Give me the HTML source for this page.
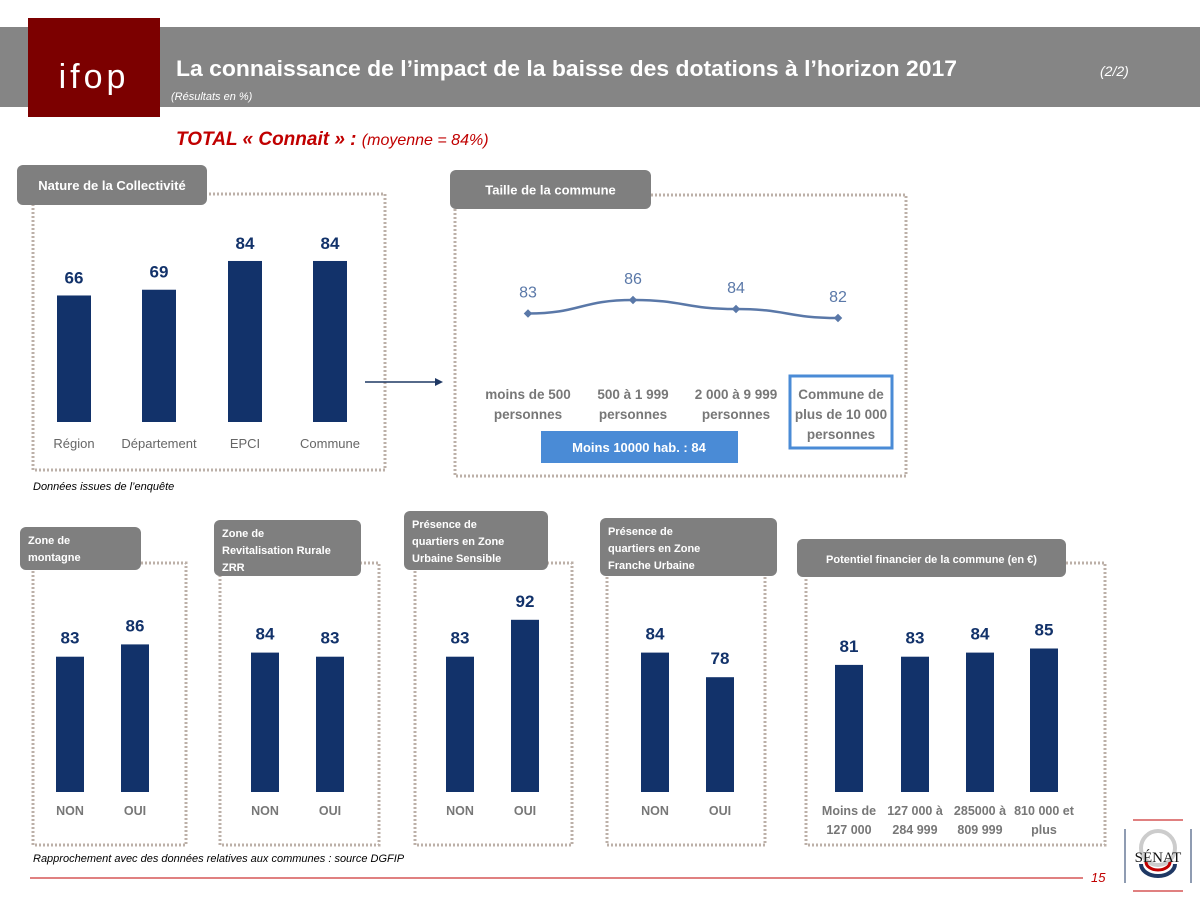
<!DOCTYPE html>
<html><head><meta charset="utf-8"><style>
body{margin:0;background:#fff;}
svg{display:block;font-family:"Liberation Sans",sans-serif;}
</style></head><body>
<svg id="c" width="1200" height="899" viewBox="0 0 1200 899">
<rect x="0" y="27" width="1200" height="80" fill="#858585"/>
<rect x="28" y="18" width="132" height="99" fill="#7c0000"/>
<text x="94" y="88" fill="#fff" font-size="34" text-anchor="middle" font-family="Liberation Sans,sans-serif" letter-spacing="4">ifop</text>
<text x="176" y="76" fill="#fff" font-size="22" font-weight="bold" textLength="781" lengthAdjust="spacingAndGlyphs">La connaissance de l’impact de la baisse des dotations à l’horizon 2017</text>
<text x="1100" y="76" fill="#fff" font-size="14" font-style="italic">(2/2)</text>
<text x="171" y="100" fill="#fff" font-size="11" font-style="italic">(Résultats en %)</text>
<text x="176" y="145" fill="#c00000" font-size="19" font-style="italic" font-weight="bold">TOTAL « Connait » : <tspan font-weight="normal" font-size="16">(moyenne = 84%)</tspan></text>
<g fill="none" stroke="#bcb0a8" stroke-width="3" stroke-dasharray="2,2">
<rect x="33" y="194" width="352" height="276"/>
<rect x="455" y="195" width="451" height="281"/>
<rect x="33" y="563" width="153" height="282"/>
<rect x="220" y="563" width="159" height="282"/>
<rect x="415" y="563" width="157" height="282"/>
<rect x="607" y="563" width="158" height="282"/>
<rect x="806" y="563" width="299" height="282"/>
</g>
<g id="tags"></g>
<g id="charts"></g>
<line x1="365" y1="382" x2="437" y2="382" stroke="#1f3864" stroke-width="1.5"/>
<polygon points="443,382 435,378 435,386" fill="#1f3864"/>
<rect x="541" y="431" width="197" height="32" fill="#4a8bd6"/>
<text x="639" y="452" fill="#fff" font-size="13" font-weight="bold" text-anchor="middle">Moins 10000 hab. : 84</text>
<rect x="790" y="376" width="102" height="72" fill="none" stroke="#4a8bd6" stroke-width="3"/>
<text x="33" y="490" font-size="11" font-style="italic" fill="#000">Données issues de l’enquête</text>
<text x="33" y="862" font-size="11" font-style="italic" fill="#000">Rapprochement avec des données relatives aux communes : source DGFIP</text>
<line x1="30" y1="878" x2="1083" y2="878" stroke="#c00000" stroke-width="1"/>
<text x="1091" y="882" font-size="13" font-style="italic" fill="#c00000">15</text>
<g>
<line x1="1133" y1="820" x2="1183" y2="820" stroke="#c00000"/>
<line x1="1133" y1="891" x2="1183" y2="891" stroke="#c00000"/>
<line x1="1125" y1="829" x2="1125" y2="883" stroke="#1f3864"/>
<line x1="1191" y1="829" x2="1191" y2="883" stroke="#1f3864"/>
<circle cx="1158" cy="848" r="17" fill="none" stroke="#ccc" stroke-width="4"/>
<path d="M1141 864 A17 12 0 0 0 1175 864" fill="none" stroke="#1f3864" stroke-width="4"/>
<path d="M1146 862 A12 8 0 0 0 1170 862" fill="none" stroke="#c00000" stroke-width="3"/>
<text x="1158" y="862" font-size="15" text-anchor="middle" font-family="Liberation Serif,serif" fill="#111">SÉNAT</text>
</g>
</svg>
<script>
const NS="http://www.w3.org/2000/svg";
const svg=document.getElementById('c');
const G=document.getElementById('charts');
const T=document.getElementById('tags');
function el(tag,attrs,parent,txt){const e=document.createElementNS(NS,tag);for(const k in attrs)e.setAttribute(k,attrs[k]);if(txt!==undefined)e.textContent=txt;(parent||G).appendChild(e);return e;}

// Data
const natureCats=["Région","Département","EPCI","Commune"];
const natureVals=[66,69,84,84];
const tailleCats=[["moins de 500","personnes"],["500 à 1 999","personnes"],["2 000 à 9 999","personnes"],["Commune de","plus de 10 000","personnes"]];
const tailleVals=[83,86,84,82];
const montagneCats=["NON","OUI"];
const montagneVals=[83,86];
const zrrCats=["NON","OUI"];
const zrrVals=[84,83];
const zusCats=["NON","OUI"];
const zusVals=[83,92];
const zfuCats=["NON","OUI"];
const zfuVals=[84,78];
const potCats=[["Moins de","127 000"],["127 000 à","284 999"],["285000 à","809 999"],["810 000 et","plus"]];
const potVals=[81,83,84,85];

const BLUE="#12326a";
const tags=[
 [17,165,190,40,["Nature de la Collectivité"],13,"tag-nature"],
 [450,170,201,39,["Taille de la commune"],13,"tag-taille"],
 [20,527,121,43,["Zone de","montagne"],11,"tag-montagne"],
 [214,520,147,56,["Zone de","Revitalisation Rurale","ZRR"],11,"tag-zrr"],
 [404,511,144,59,["Présence de","quartiers en Zone","Urbaine Sensible"],11,"tag-zus"],
 [600,518,177,58,["Présence de","quartiers en Zone","Franche Urbaine"],11,"tag-zfu"],
 [797,539,269,38,["Potentiel financier de la commune  (en €)"],11,"tag-potentiel"]];
tags.forEach(t=>{
 const r=el('rect',{x:t[0],y:t[1],width:t[2],height:t[3],rx:6,fill:'#7f7f7f'},T);
 
 
 const single=t[4].length===1;
 t[4].forEach((s,i)=>{
  const x=single?t[0]+t[2]/2:t[0]+8;
  const y=single?t[1]+t[3]/2+5:t[1]+17+i*17;
  const tx=el('text',{x:x,y:y,fill:'#fff','font-size':t[5],'font-weight':'bold','text-anchor':single?'middle':'start'},T,s);
  
  
 });
});

const topBase=422, topScale=1.917, topX=[74,159,245,330];
natureVals.forEach((v,i)=>{
 const h=v*topScale;
 const b=el('rect',{x:topX[i]-17,y:topBase-h,width:34,height:h,fill:BLUE});
 
 
 const l=el('text',{x:topX[i],y:topBase-h-12,'font-size':17,'font-weight':'bold',fill:BLUE,'text-anchor':'middle'},G,v);
 
 
 const c=el('text',{x:topX[i],y:448,'font-size':13,fill:'#666','text-anchor':'middle'},G,natureCats[i]);
 
 
});

const lineX=[528,633,736,838];
const ly=v=>300+(86-v)*4.5;
const pts=tailleVals.map((v,i)=>[lineX[i],ly(v)]);
let d='M'+pts[0][0]+' '+pts[0][1];
for(let i=1;i<pts.length;i++){const p=pts[i-1],q=pts[i];const mx=(p[0]+q[0])/2;d+=` C${mx} ${p[1]} ${mx} ${q[1]} ${q[0]} ${q[1]}`;}
const ln=el('path',{d:d,fill:'none',stroke:'#5a78a8','stroke-width':2.5});


tailleVals.forEach((v,i)=>{
 const m=el('rect',{x:lineX[i]-3,y:ly(v)-3,width:6,height:6,fill:'#5a78a8',transform:`rotate(45 ${lineX[i]} ${ly(v)})`});
 
 
 const l=el('text',{x:lineX[i],y:ly(v)-16,'font-size':16,fill:'#5a78a8','text-anchor':'middle'},G,v);
 
 
 tailleCats[i].forEach((s,j)=>{
  const c=el('text',{x:lineX[i]+(i==3?3:0),y:399+j*20,'font-size':13.5,'font-weight':'bold',fill:'#777','text-anchor':'middle'},G,s);
  
  
 });
});

const botBase=792, v0=50, s=4.1;
function bars(cats,vals,xs,w,name){
 vals.forEach((v,i)=>{
  const h=(v-v0)*s;
  const b=el('rect',{x:xs[i]-w/2,y:botBase-h,width:w,height:h,fill:BLUE});
  
  
  const l=el('text',{x:xs[i],y:botBase-h-13,'font-size':17,'font-weight':'bold',fill:BLUE,'text-anchor':'middle'},G,v);
  
  
  const lines=Array.isArray(cats[i])?cats[i]:[cats[i]];
  lines.forEach((t,j)=>{
   const c=el('text',{x:xs[i],y:815+j*19,'font-size':12.5,'font-weight':'bold',fill:'#777','text-anchor':'middle'},G,t);
   
   
  });
 });
}
bars(montagneCats,montagneVals,[70,135],28,'montagne');
bars(zrrCats,zrrVals,[265,330],28,'zrr');
bars(zusCats,zusVals,[460,525],28,'zus');
bars(zfuCats,zfuVals,[655,720],28,'zfu');
bars(potCats,potVals,[849,915,980,1044],28,'potentiel');
</script>
</body></html>
